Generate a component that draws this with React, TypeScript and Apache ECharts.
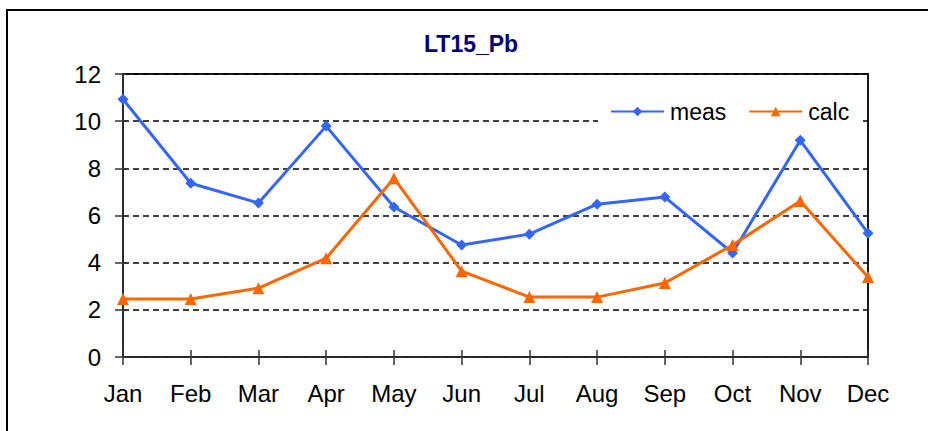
import React, { useEffect, useRef } from "react";
import * as echarts from "echarts";

const months = ["Jan", "Feb", "Mar", "Apr", "May", "Jun", "Jul", "Aug", "Sep", "Oct", "Nov", "Dec"];
const meas = [10.93, 7.37, 6.53, 9.79, 6.36, 4.75, 5.21, 6.48, 6.78, 4.41, 9.19, 5.25];
const calc = [2.46, 2.46, 2.92, 4.19, 7.58, 3.64, 2.54, 2.54, 3.14, 4.75, 6.61, 3.39];
const titleText = "LT15_Pb";

export default function App() {
  const ref = useRef<HTMLDivElement>(null);
  useEffect(() => {
    if (!ref.current) return;
    const chart = echarts.init(ref.current, null, { renderer: "svg" });
    const font = "'Liberation Sans', Arial, sans-serif";
    chart.setOption({
      animation: false,
      backgroundColor: "#ffffff",
      textStyle: { fontFamily: font },
      title: {
        text: titleText,
        left: 424,
        top: 32,
        padding: 0,
        textStyle: { fontSize: 23, fontWeight: "bold", color: "#00007f", fontFamily: font },
      },
      legend: {
        left: 598,
        top: 96,
        padding: [4, 10, 4, 12],
        backgroundColor: "#ffffff",
        itemWidth: 53,
        itemHeight: 12,
        itemGap: 22,
        textStyle: { fontSize: 23, color: "#000", fontFamily: font, padding: [0, 0, 0, 1] },
        data: ["meas", "calc"],
      },
      graphic: [
        {
          type: "rect",
          shape: { x: 7, y: 10, width: 1000, height: 600 },
          style: { fill: "none", stroke: "#000", lineWidth: 2 },
          silent: true,
        },
      ],
      grid: {
        left: 123,
        right: 60,
        top: 74,
        bottom: 74,
        show: true,
        borderColor: "#1a1a1a",
        borderWidth: 2,
        backgroundColor: "transparent",
      },
      xAxis: [
        {
          type: "category",
          data: months,
          boundaryGap: false,
          axisLine: { lineStyle: { color: "#333", width: 1.5 } },
          axisTick: { show: true, length: 8, lineStyle: { color: "#333", width: 1.5 } },
          axisLabel: { fontSize: 24, color: "#000", margin: 24, fontFamily: font },
          splitLine: { show: false },
        },
        {
          type: "category",
          data: months,
          boundaryGap: false,
          position: "bottom",
          axisLine: { show: false },
          axisTick: { show: true, inside: true, length: 7, lineStyle: { color: "#333", width: 1.5 } },
          axisLabel: { show: false },
          splitLine: { show: false },
        },
      ],
      yAxis: [
        {
          type: "value",
          min: 0,
          max: 12,
          interval: 2,
          axisLine: { show: true, lineStyle: { color: "#333", width: 1.5 } },
          axisTick: { show: true, length: 8, lineStyle: { color: "#333", width: 1.5 } },
          axisLabel: { fontSize: 24, color: "#000", margin: 22, fontFamily: font },
          splitLine: { show: true, lineStyle: { color: "#000", type: [6, 4], width: 1.5 } },
        },
        {
          type: "value",
          min: 0,
          max: 12,
          interval: 2,
          position: "left",
          axisLine: { show: false },
          axisTick: { show: true, inside: true, length: 4, lineStyle: { color: "#333", width: 1.5 } },
          axisLabel: { show: false },
          splitLine: { show: false },
        },
      ],
      series: [
        {
          name: "meas",
          type: "line",
          data: meas,
          symbol: "diamond",
          symbolSize: 11,
          lineStyle: { color: "#3366ff", width: 3 },
          itemStyle: { color: "#3366ff" },
          z: 3,
        },
        {
          name: "calc",
          type: "line",
          data: calc,
          symbol: "triangle",
          symbolSize: 12,
          lineStyle: { color: "#ff6600", width: 3 },
          itemStyle: { color: "#ff6600" },
          z: 4,
        },
      ],
    });
    return () => chart.dispose();
  }, []);
  return <div ref={ref} style={{ width: 928, height: 431, position: "absolute", left: 0, top: 0 }} />;
}
